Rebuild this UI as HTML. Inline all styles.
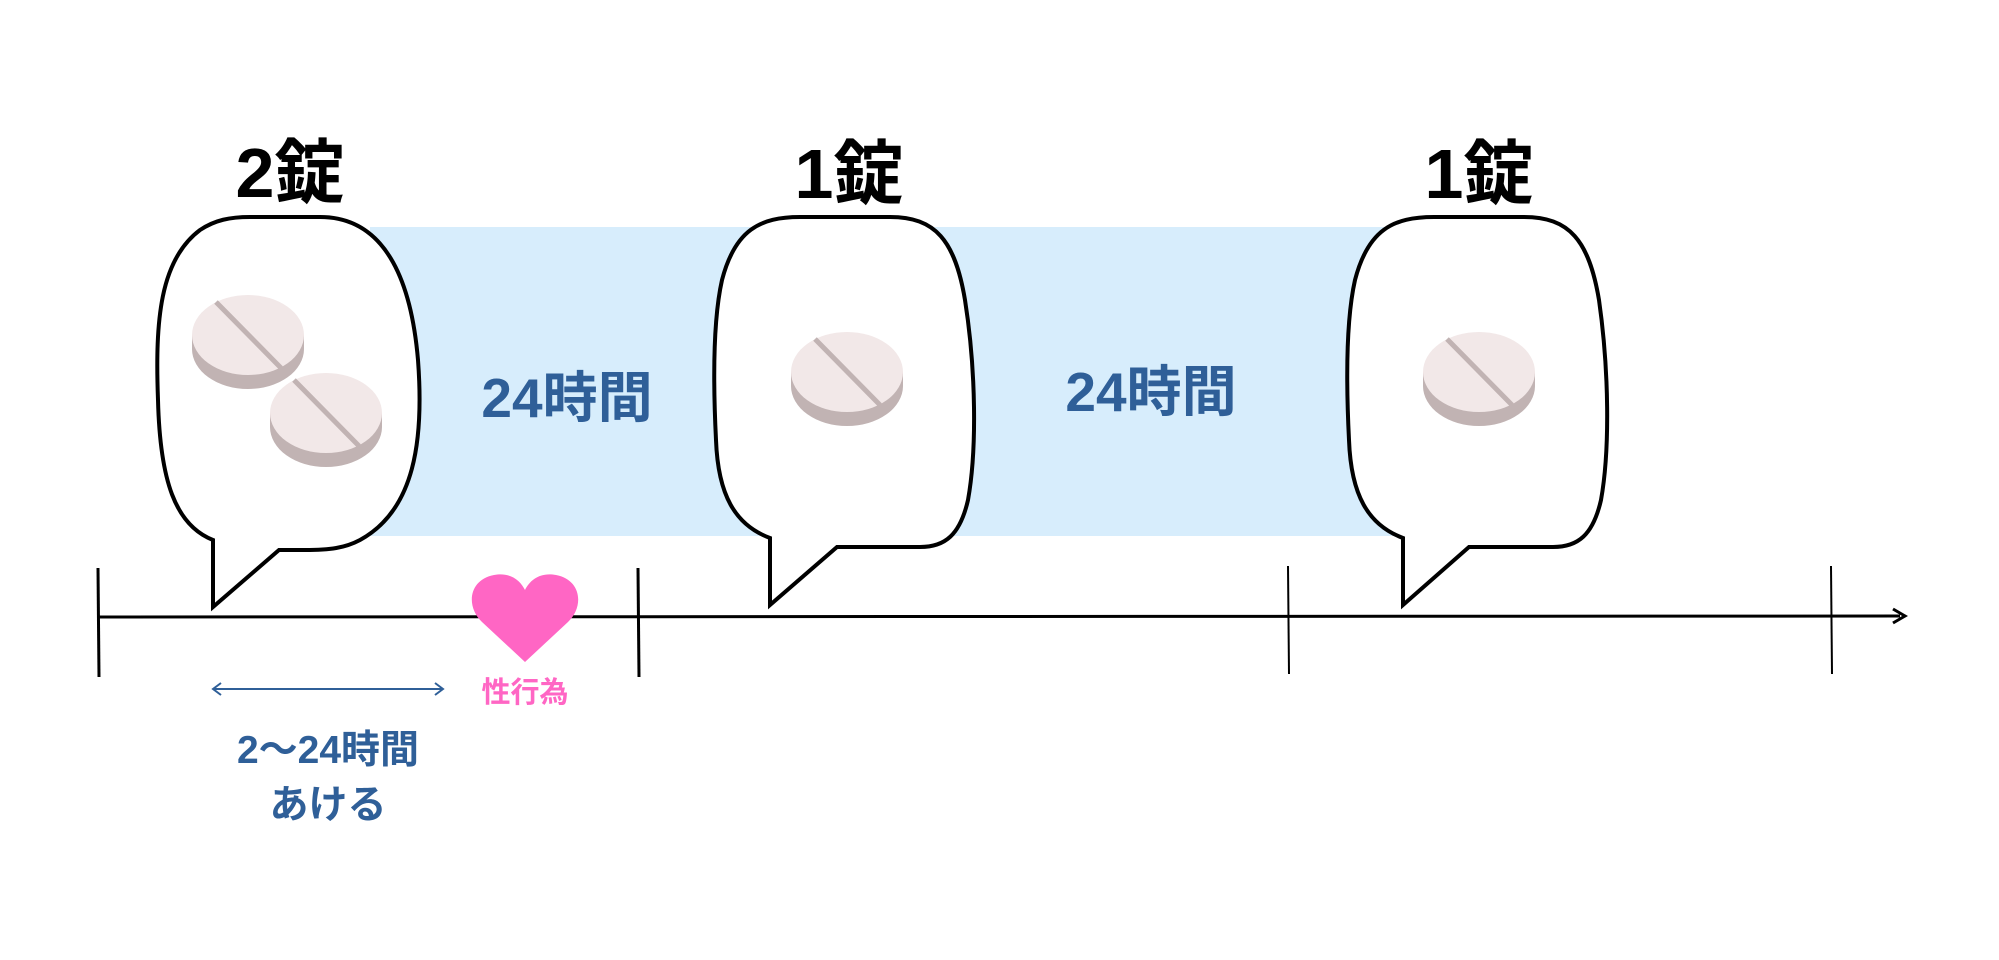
<!DOCTYPE html>
<html><head><meta charset="utf-8"><style>
html,body{margin:0;padding:0;background:#fff;}
svg{display:block;}
text{font-family:"Liberation Sans","Noto Sans CJK JP",sans-serif;font-weight:bold;}
</style></head><body>
<svg width="1999" height="960" viewBox="0 0 1999 960" xmlns="http://www.w3.org/2000/svg">
<defs>
<g id="pill">
<ellipse cx="0" cy="14" rx="56" ry="40" fill="#c1b3b3"/>
<rect x="-56" y="0" width="112" height="14" fill="#c1b3b3"/>
<ellipse cx="0" cy="0" rx="56" ry="40" fill="#f2e8e8"/>
<line x1="-32" y1="-33" x2="33" y2="33" stroke="#c1b3b3" stroke-width="5"/>
</g>
</defs>
<rect x="370" y="227" width="1032" height="309" fill="#d7edfc"/>
<!-- timeline -->
<line x1="98" y1="617" x2="1900" y2="616" stroke="#000" stroke-width="3"/>
<path d="M1893 609 L1905 616 L1893 623" fill="none" stroke="#000" stroke-width="3"/>
<line x1="98" y1="568" x2="99" y2="677" stroke="#000" stroke-width="3"/>
<line x1="638" y1="568" x2="639" y2="677" stroke="#000" stroke-width="3"/>
<line x1="1288" y1="566" x2="1289" y2="674" stroke="#000" stroke-width="2"/>
<line x1="1831" y1="566" x2="1832" y2="674" stroke="#000" stroke-width="2"/>
<!-- bubbles -->
<path d="M250 217 L320 217 C390 217 412 290 418 360 C424 440 415 510 360 540 C345 548 330 550 305 550 L279 550 L213 607 L213 540 C175 525 160 480 158 400 C155 320 160 260 200 230 C215 220 230 217 250 217 Z" fill="#fff" stroke="#000" stroke-width="4"/>
<path d="M800 217 L890 217 C935 217 955 240 965 300 C976 370 977 450 968 500 C960 535 945 547 920 547 L837 547 L770 605 L770 538 C735 525 718 495 716 440 C713 380 713 320 722 280 C735 230 760 217 800 217 Z" fill="#fff" stroke="#000" stroke-width="4"/>
<path d="M1434 217 L1524 217 C1569 217 1589 240 1599 300 C1609 370 1610 450 1601 500 C1593 535 1578 547 1553 547 L1469 547 L1403 605 L1403 538 C1368 525 1351 495 1349 440 C1346 380 1346 320 1355 280 C1368 230 1393 217 1434 217 Z" fill="#fff" stroke="#000" stroke-width="4"/>
<!-- pills -->
<use href="#pill" x="248" y="335"/>
<use href="#pill" x="326" y="413"/>
<use href="#pill" x="847" y="372"/>
<use href="#pill" x="1479" y="372"/>
<!-- labels -->
<text x="290" y="197" font-size="70" text-anchor="middle" fill="#000">2錠</text>
<text x="849" y="198" font-size="70" text-anchor="middle" fill="#000">1錠</text>
<text x="1479" y="198" font-size="70" text-anchor="middle" fill="#000">1錠</text>
<text x="567" y="417" font-size="55" text-anchor="middle" fill="#2f5f98">24時間</text>
<text x="1151" y="411" font-size="55" text-anchor="middle" fill="#2f5f98">24時間</text>
<!-- heart -->
<path d="M525 662 L482 622 C466 607 468 580 494 575 C510 572 520 580 525 590 C530 580 540 572 556 575 C582 580 584 607 568 622 Z" fill="#ff66c4"/>
<text x="525" y="702" font-size="29" text-anchor="middle" fill="#ff66c4">性行為</text>
<!-- double arrow -->
<line x1="214" y1="689" x2="442" y2="689" stroke="#2f5f98" stroke-width="2"/>
<path d="M221 683 L213 689 L221 695 M435 683 L443 689 L435 695" fill="none" stroke="#2f5f98" stroke-width="2"/>
<text x="328" y="763" font-size="39" text-anchor="middle" fill="#2f5f98">2〜24時間</text>
<text x="328" y="818" font-size="39" text-anchor="middle" fill="#2f5f98">あける</text>
</svg>
</body></html>
